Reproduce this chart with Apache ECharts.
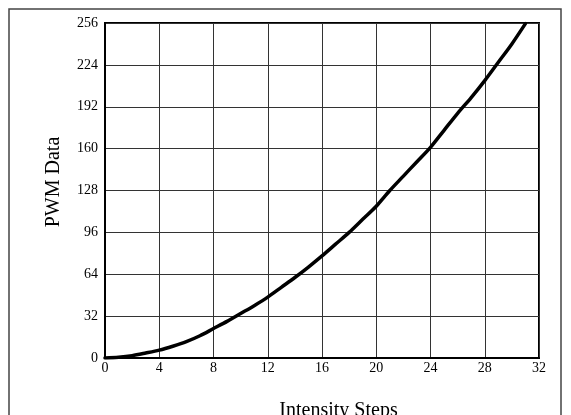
<!DOCTYPE html>
<html>
<head>
<meta charset="utf-8">
<script src="https://cdn.jsdelivr.net/npm/echarts@6/dist/echarts.min.js"></script>
<style>
html,body{margin:0;padding:0;background:#fff;}
#c{width:571px;height:415px;}
</style>
</head>
<body>
<div id="c"></div>
<script>
var steps = [0,1,2,3,4,5,6,7,8,9,10,11,12,13,14,15,16,17,18,19,20,21,22,23,24,25,26,27,28,29,30,31];
var pwmValues = [0,0.6,1.8,3.8,6,9,12.5,17,22.5,28,34,40,46.5,54,61.5,69.5,78,87,96,106,116,128,139,150,161,174,187,199,212,226,240,255.5];
var xTicks = {min:0, max:32, step:4};
var yTicks = {min:0, max:256, step:32};
var xName = 'Intensity Steps';
var yName = 'PWM Data';

var points = steps.map(function(s,i){return [s, pwmValues[i]];});
var font = '"Liberation Serif","Times New Roman",serif';
var chart = echarts.init(document.getElementById('c'));
chart.setOption({
  animation:false,
  graphic:[{type:'rect',shape:{x:9,y:9,width:552,height:420},style:{fill:'none',stroke:'#444',lineWidth:1.5},silent:true}],
  grid:{left:105,right:32,top:23,bottom:57,show:true,borderColor:'#000',borderWidth:2,backgroundColor:'transparent',
    outerBoundsMode:'none',containLabel:false},
  xAxis:{type:'value',min:xTicks.min,max:xTicks.max,interval:xTicks.step,
    name:xName,nameLocation:'middle',nameGap:43,
    nameTextStyle:{fontFamily:font,fontSize:20,color:'#000',padding:[0,0,0,33]},
    axisLine:{show:true,lineStyle:{color:'#000',width:2}},axisTick:{show:false},
    axisLabel:{fontFamily:font,fontSize:14,color:'#000',margin:3},
    splitLine:{show:true,lineStyle:{color:'#333',width:1}}},
  yAxis:{type:'value',min:yTicks.min,max:yTicks.max,interval:yTicks.step,
    name:yName,nameLocation:'middle',nameGap:41,
    nameTextStyle:{fontFamily:font,fontSize:20,color:'#000',padding:[0,0,0,17]},
    axisLine:{show:true,lineStyle:{color:'#000',width:2}},axisTick:{show:false},
    axisLabel:{fontFamily:font,fontSize:14,color:'#000',margin:7},
    splitLine:{show:true,lineStyle:{color:'#333',width:1}}},
  series:[{type:'line',data:points,smooth:0.3,showSymbol:false,clip:true,
    lineStyle:{color:'#000',width:3.5,cap:'round'}}]
});
</script>
</body>
</html>
